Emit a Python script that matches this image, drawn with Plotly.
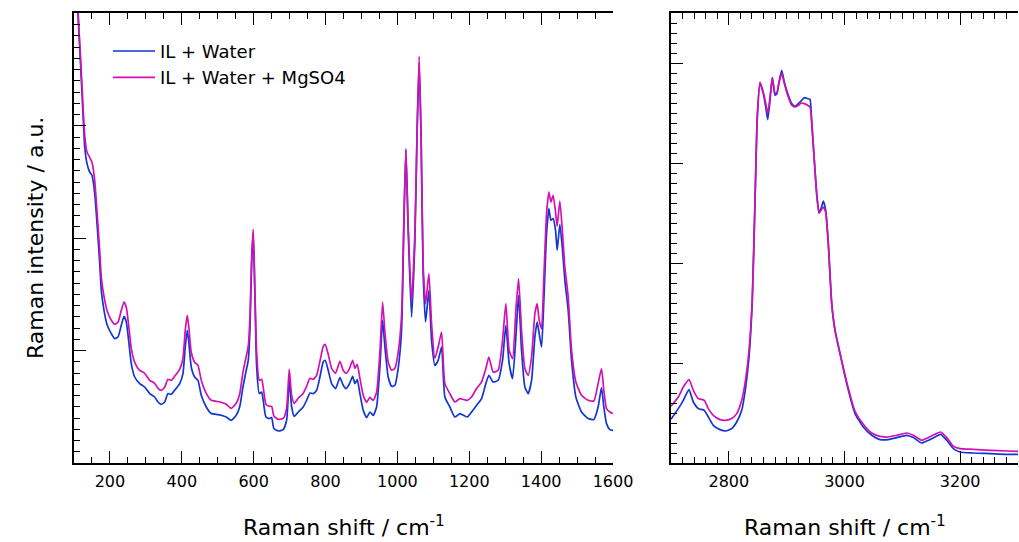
import plotly.graph_objects as go

# ---- Low-wavenumber region (Raman shift, cm-1) ----
low_shift = [100, 111.1, 118.6, 125.0, 129.8, 136.2, 143.7, 150.0, 157.6, 164.8, 171.5, 176.0, 183.5, 192.6,
             203.8, 213.2, 222.4, 231.6, 239.1, 245.5, 253.0, 259.4, 268.9, 282.8, 296.7, 310.6, 324.5, 333.7,
             342.9, 352.3, 361.5, 370.7, 380.1, 394.1, 403.2, 409.6, 415.2, 419.9, 426.3, 435.8, 445.0, 454.2,
             468.1, 482.0, 495.9, 509.8, 523.7, 537.6, 551.5, 561.0, 570.2, 579.3, 584.9, 589.6, 594.4, 598.8,
             603.5, 608.3, 615.5, 622.2, 626.6, 634.1, 643.3, 650.0, 656.4, 668.4, 682.3, 691.7, 699.0, 705.7,
             712.9, 724.0, 737.9, 747.4, 756.6, 765.7, 775.2, 784.4, 793.6, 799.1, 807.5, 816.9, 828.0, 840.0,
             849.2, 856.7, 865.9, 875.4, 881.8, 888.2, 895.7, 904.9, 914.3, 923.5, 932.7, 942.1, 951.3, 958.8,
             965.2, 974.4, 983.8, 993.0, 1002.2, 1011.6, 1018.0, 1023.6, 1030.0, 1039.4, 1048.7, 1055.0, 1060.6,
             1066.2, 1071.7, 1078.4, 1087.6, 1095.1, 1104.3, 1113.5, 1122.9, 1132.1, 1146.0, 1159.9, 1173.9,
             1194.2, 1206.4, 1220.3, 1234.2, 1246.2, 1254.5, 1266.5, 1280.4, 1292.6, 1301.8, 1311.0, 1320.5,
             1329.7, 1337.2, 1345.5, 1354.7, 1363.9, 1373.4, 1382.6, 1389.0, 1394.6, 1401.2, 1407.6, 1415.1,
             1421.5, 1427.1, 1433.4, 1440.1, 1444.6, 1452.1, 1459.6, 1466.0, 1475.3, 1484.7, 1496.7, 1512.5,
             1530.9, 1546.6, 1558.6, 1568.0, 1574.5, 1582.0, 1591.2, 1600.0]

low_water = [540, 449.4, 396, 349.7, 316, 299.4, 291, 287.7, 269.7, 236, 199.7, 172.7, 152.7, 137.7,
             129.4, 124.4, 126, 137.7, 146.7, 141, 119.4, 99.4, 86, 79.4, 76, 69.4, 66, 61,
             58.7, 61, 69.4, 68.7, 72.7, 79.4, 89.4, 116, 132.7, 119.4, 96, 86, 82.7, 67.7,
             56, 49.4, 48.7, 47.7, 46, 42.7, 47.7, 56, 76, 92.7, 102.7, 132.7, 199.4, 230.7,
             166, 96, 69.4, 71, 62.7, 46, 44.4, 45.4, 34.4, 32, 33.4, 42.7, 82.7, 56,
             46.7, 51, 56, 62.7, 70, 69.4, 72.7, 86, 101, 102.7, 92.7, 79.4, 74.4, 85.4,
             77.7, 74.4, 78.7, 86.7, 79.4, 83.4, 69.4, 52.7, 45.4, 51, 47.7, 56, 96, 142.7,
             116, 86, 76.7, 77.7, 94.7, 132.7, 237.7, 312.7, 232.7, 146, 222.7, 332.7, 400.7,
             317.7, 189.4, 141, 172.7, 122.7, 97.7, 102.7, 116, 66, 56, 46, 49.4,
             46, 51, 57.7, 64.4, 79.4, 87.7, 81, 82.7, 102.7, 137.7, 99.4, 84.4,
             126, 167.7, 112.7, 76, 69.4, 82.7, 126, 141, 129.4, 116, 162.7, 229.4,
             254.4, 242.7, 244.4, 232.7, 212.7, 238.7, 212.7, 182.7, 152.7, 102.7, 66, 51,
             44.4, 43.4, 56, 75.4, 56, 39.4, 33.4, 32.7]

low_mgso4 = [545, 452, 403, 357.7, 327.7, 310.7, 305.7, 300.7, 282.7, 247.7, 212.7, 185.7, 166.7, 151.7,
             142.7, 138.7, 140.7, 152.7, 161, 155.7, 134.7, 114.7, 100.7, 92.7, 89.7, 82.7, 79.7, 74.7,
             72.7, 75.7, 83.7, 82.7, 86.7, 93.7, 104.7, 132.7, 147.7, 134.7, 110.7, 100.7, 97.7, 82.7,
             69.7, 62.7, 61.7, 60.7, 58.7, 54.7, 59.7, 68.7, 90.7, 106.7, 116.7, 144.7, 204.7, 233.7,
             172.7, 110.7, 82.7, 83.7, 75.7, 58.7, 56.7, 56.7, 46.7, 43.7, 44.7, 54.7, 93.7, 67.7,
             59.7, 64.7, 69.7, 76.7, 84.7, 83.7, 87.7, 101.7, 116.7, 118.7, 108.7, 94.7, 89.7, 101.7,
             92.7, 89.7, 93.7, 102.7, 94.7, 98.7, 84.7, 67.7, 60.7, 65.7, 62.7, 70.7, 110.7, 161,
             130.7, 100.7, 92.7, 94.7, 110.7, 147.7, 242.7, 314.4, 237.7, 161, 230.7, 337, 406.7,
             322, 197.7, 159.4, 189.4, 139.4, 104.7, 116, 131, 79.4, 69.4, 61, 64.4,
             62.7, 66, 74.4, 81, 94.4, 106, 91, 92.7, 122.7, 159.4, 112.7, 104.4,
             152.7, 184.4, 132.7, 94.4, 87.7, 106, 149.4, 159.4, 142.7, 134.4, 186, 249.4,
             271, 261, 267.7, 251, 236.7, 262, 229.4, 196, 166, 112.7, 81, 67.7,
             62.7, 62, 79.4, 94.4, 72.7, 54.4, 51, 49.4]

# ---- C-H stretching region (Raman shift, cm-1) ----
high_shift = [2700, 2712.6, 2721.3, 2731.1, 2738.6, 2747.2, 2757.6, 2764.5, 2773.1, 2784.7, 2794.6, 2805.0,
              2813.6, 2822.3, 2829.2, 2834.9, 2840.6, 2845.3, 2849.2, 2853.9, 2859.6, 2863.8, 2867.2, 2871.2,
              2875.2, 2879.8, 2883.3, 2886.7, 2891.4, 2895.9, 2901.8, 2908.7, 2914.4, 2920.1, 2926.0, 2930.5,
              2936.4, 2940.4, 2943.3, 2947.8, 2952.0, 2955.9, 2959.4, 2963.4, 2967.5, 2972.0, 2977.9, 2983.6,
              2992.2, 3003.8, 3018.2, 3032.5, 3047.1, 3061.4, 3075.8, 3090.3, 3107.6, 3119.0, 3133.5, 3144.9,
              3156.5, 3166.4, 3176.8, 3188.2, 3199.7, 3222.7, 3251.6, 3280.5, 3300.0]

high_water = [43.7, 54.4, 62.7, 73.4, 61, 54.4, 52.7, 46, 37.7, 33.4, 32, 34.4,
              41, 52.7, 76, 106, 162.7, 262.7, 346, 379.7, 369.4, 356, 343.4, 362.7,
              385.4, 367.7, 369.4, 381, 392.7, 381, 369.4, 359.4, 356.7, 359.4, 362.7, 365.4,
              364.4, 363.4, 339.4, 302.7, 269.4, 251, 254.4, 262, 252.7, 219.4, 159.4, 132.7,
              109.7, 79.4, 49.4, 36, 27.7, 23.4, 23.4, 25.4, 27.7, 25.4, 20, 22.7,
              26, 28.7, 22.7, 14.4, 11, 10, 9.4, 8.7, 8.7]

high_mgso4 = [56.7, 66, 76, 83.4, 72.7, 64.4, 62.7, 54.4, 47.7, 43.4, 42.7, 44.4,
              49.4, 62.7, 84.4, 112.7, 164.7, 262.7, 346, 381, 370.7, 359.7, 349.4, 365.7,
              385.4, 369.7, 370.7, 379.7, 390, 379.7, 367.7, 357.7, 356, 357.7, 360, 359.4,
              357.7, 355.7, 342.7, 302.7, 267.7, 249.7, 252.7, 256, 250.7, 219.4, 159.4, 132.7,
              109.7, 81, 51.7, 38.7, 30, 26.7, 26, 27.7, 30, 27.7, 22.7, 25.4,
              28.7, 31, 25.4, 16.7, 14.4, 13.7, 12.7, 12, 11.7]

series_names = ["IL + Water", "IL + Water + MgSO4"]
series_colors = ["#1236d4", "#d311b2"]

low_ticks = [200, 400, 600, 800, 1000, 1200, 1400, 1600]
high_label_ticks = [2800, 3000, 3200]
high_major_ticks = [2700, 2800, 2900, 3000, 3100, 3200, 3300]

W, H = 1019, 542
FONT = "DejaVu Sans"

fig = go.Figure()
for name, color, lo, hi in zip(series_names, series_colors, [low_water, low_mgso4], [high_water, high_mgso4]):
    line = dict(color=color, width=1.7, shape="spline", smoothing=0.5)
    fig.add_trace(go.Scatter(x=low_shift, y=lo, mode="lines", name=name, legendgroup=name,
                             line=line, xaxis="x", yaxis="y"))
    fig.add_trace(go.Scatter(x=high_shift, y=hi, mode="lines", name=name, legendgroup=name,
                             showlegend=False, line=line, xaxis="x2", yaxis="y2"))

axis_common = dict(ticks="inside", ticklen=12, tickwidth=1.3, tickcolor="black", automargin=False,
                   showline=True, linewidth=1.6, linecolor="black", showgrid=False, zeroline=False,
                   ticklabelstandoff=3,
                   tickfont=dict(family=FONT, size=16, color="black"))


def minor(d):
    return dict(dtick=d, ticklen=6, tickwidth=1.3, tickcolor="black", ticks="inside", showgrid=False)


fig.update_layout(
    width=W, height=H,
    template="none",
    paper_bgcolor="white", plot_bgcolor="white",
    margin=dict(l=0, r=0, t=13, b=79, pad=0),
    font=dict(family=FONT, color="black"),
    showlegend=True,
    legend=dict(x=108 / W, y=0.956, xanchor="left", yanchor="top", bgcolor="rgba(0,0,0,0)",
                font=dict(family=FONT, size=18, color="black"), tracegroupgap=0, itemwidth=42,
                borderwidth=0),
    xaxis=dict(domain=[74 / W, 613 / W], range=[100, 1600], anchor="y", mirror="ticks",
               tickmode="array", tickvals=low_ticks, minor=minor(50), **axis_common),
    yaxis=dict(domain=[0, 1], range=[0, 450], anchor="x", dtick=112.4, tick0=0, showticklabels=False,
               minor=minor(11.24), **axis_common),
    yaxis3=dict(overlaying="y", side="right", anchor="x", range=[0, 5.4], dtick=1, tick0=0,
                showticklabels=False, minor=minor(0.2), **axis_common),
    xaxis2=dict(domain=[671 / W, 1018 / W], range=[2700, 3300], anchor="y2", mirror="ticks",
                tickmode="array", tickvals=high_label_ticks, minor=minor(20), **axis_common),
    xaxis3=dict(overlaying="x2", side="bottom", anchor="y2", range=[2700, 3300], mirror="ticks",
                tickmode="array", tickvals=high_major_ticks, showticklabels=False, **axis_common),
    yaxis2=dict(domain=[0, 1], range=[0, 450], anchor="x2", dtick=100, tick0=0, showticklabels=False,
                minor=minor(10), **axis_common),
    yaxis4=dict(overlaying="y2", side="right", anchor="x2", range=[0, 6.5], dtick=1, tick0=0,
                showticklabels=False, minor=minor(0.2), **axis_common),
)

title_font = dict(family=FONT, size=22, color="black")
fig.add_annotation(text="Raman shift / cm<sup>-1</sup>", xref="paper", yref="paper",
                   x=(74 + 613) / 2 / W, y=-0.141, xanchor="center", yanchor="middle",
                   showarrow=False, font=title_font)
fig.add_annotation(text="Raman shift / cm<sup>-1</sup>", xref="paper", yref="paper",
                   x=(671 + 1018) / 2 / W, y=-0.141, xanchor="center", yanchor="middle",
                   showarrow=False, font=title_font)
fig.add_annotation(text="Raman intensity / a.u.", xref="paper", yref="paper",
                   x=35 / W, y=0.5, xanchor="center", yanchor="middle", textangle=-90,
                   showarrow=False, font=title_font)

# remove the default 8px page margin so the figure sits at the window's top-left corner
fig.write_html("out.html", config={"displayModeBar": False},
               post_script="document.body.style.margin='0px';")
